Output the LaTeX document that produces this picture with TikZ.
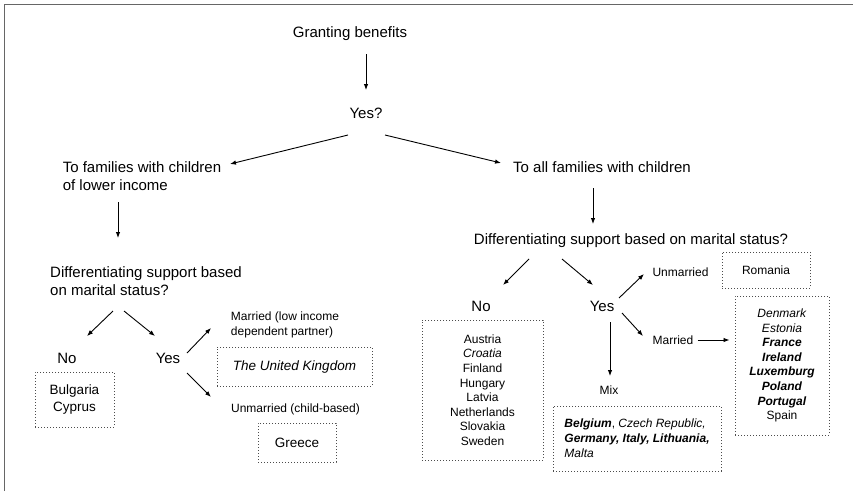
\documentclass[tikz,border=0pt]{standalone}
\usepackage{fontspec}
\setmainfont{Liberation Sans}
\usepackage{tikz}
\usetikzlibrary{arrows.meta}

\begin{document}
\begin{tikzpicture}[
  x=1pt, y=-1pt,
  txt/.style={inner sep=0pt, align=left, font=\fontsize{15}{18}\selectfont},
  lbl/.style={inner sep=0pt, align=left, font=\fontsize{12}{15}\selectfont},
  cbox/.style={rectangle, draw=black!70, line width=1pt, dash pattern=on 1pt off 2pt, inner sep=0pt, align=center},
  big/.style={font=\fontsize{13.5}{17}\selectfont},
  small/.style={font=\fontsize{12}{14.6}\selectfont},
  arrow/.style={-{Latex[length=6pt,width=4.5pt]}, line width=0.9pt},
]
  \useasboundingbox (0,0) rectangle (853,491);
  \draw[black!60, line width=1.2pt] (4.7,491) -- (4.7,4.7) -- (853,4.7);

  % top of the tree
  \node[txt] (grant) at (350,33.5) {Granting benefits};
  \node[txt] (yesq) at (366,113) {Yes?};
  \node[txt] (lowinc) at (142,176) {To families with children\\of lower income};
  \node[txt] (allfam) at (602,167) {To all families with children};

  % left branch
  \node[txt] (diffL) at (146,281) {Differentiating support based\\on marital status?};
  \node[txt] (noL) at (67,358) {No};
  \node[txt] (yesL) at (168,358) {Yes};
  \node[lbl] (marL) at (285,325) {Married (low income\\dependent partner)};
  \node[lbl] (unmL) at (295.5,409.5) {Unmarried (child-based)};
  \node[cbox, big, minimum width=79pt, minimum height=55pt] (bgcy) at (74.5,399.5) {Bulgaria\\Cyprus};
  \node[cbox, big, minimum width=155pt, minimum height=39pt] (uk) at (294.5,366.5) {\textit{The United Kingdom}};
  \node[cbox, big, minimum width=78pt, minimum height=39pt] (greece) at (297,442.5) {Greece};

  % right branch
  \node[txt] (diffR) at (631,240.5) {Differentiating support based on marital status?};
  \node[txt] (noR) at (481,306) {No};
  \node[txt] (yesR) at (602,306) {Yes};
  \node[lbl] (unmR) at (680.5,272) {Unmarried};
  \node[lbl] (marR) at (673,340) {Married};
  \node[lbl] (mix) at (609,390) {Mix};
  \node[cbox, small, minimum width=88pt, minimum height=36pt] (romania) at (766,270) {Romania};
  \node[cbox, small, minimum width=121pt, minimum height=140pt] (nolist) at (482.5,390)
    {Austria\\\textit{Croatia}\\Finland\\Hungary\\Latvia\\Netherlands\\Slovakia\\Sweden};
  \node[cbox, small, minimum width=94pt, minimum height=139pt] (marlist) at (782,365.5)
    {\textit{Denmark}\\\textit{Estonia}\\\textbf{\textit{France}}\\\textbf{\textit{Ireland}}\\\textbf{\textit{Luxemburg}}\\\textbf{\textit{Poland}}\\\textbf{\textit{Portugal}}\\Spain};
  \node[cbox, minimum width=168pt, minimum height=65pt, font=\fontsize{12}{15}\selectfont, align=left] (mixlist) at (637,438.5)
    {\textbf{\textit{Belgium}}, \textit{Czech Republic,}\\\textbf{\textit{Germany, Italy, Lithuania,}}\\\textit{Malta}};

  \draw[arrow] ([shift={(16,20.5)}]grant.center) -- ([shift={(0,-23)}]yesq.center);
  \draw[arrow] ([shift={(-18,22)}]yesq.center) -- ([shift={(88,-12)}]lowinc.center);
  \draw[arrow] ([shift={(19,22)}]yesq.center) -- ([shift={(-101,-4)}]allfam.center);
  \draw[arrow] ([shift={(-24,26)}]lowinc.center) -- ([shift={(-28,-43)}]diffL.center);
  \draw[arrow] ([shift={(-9,21)}]allfam.center) -- ([shift={(-38,-16.5)}]diffR.center);
  \draw[arrow] ([shift={(-33,30)}]diffL.center) -- ([shift={(20,-22)}]noL.center);
  \draw[arrow] ([shift={(-22,30)}]diffL.center) -- ([shift={(-13,-22)}]yesL.center);
  \draw[arrow] ([shift={(19,-5)}]yesL.center) -- ([shift={(-74,3)}]marL.center);
  \draw[arrow] ([shift={(19,15)}]yesL.center) -- ([shift={(-84.5,-12.5)}]unmL.center);
  \draw[arrow] ([shift={(-102,18.5)}]diffR.center) -- ([shift={(22,-21)}]noR.center);
  \draw[arrow] ([shift={(-69,18.5)}]diffR.center) -- ([shift={(-9,-21)}]yesR.center);
  \draw[arrow] ([shift={(17,-8)}]yesR.center) -- ([shift={(-36.5,2)}]unmR.center);
  \draw[arrow] ([shift={(20,7)}]yesR.center) -- ([shift={(-30,-4)}]marR.center);
  \draw[arrow, shorten <=4pt, shorten >=5pt] (marR.east) -- (marR -| marlist.west);
  \draw[arrow] ([shift={(8,16)}]yesR.center) -- ([shift={(1,-14)}]mix.center);
\end{tikzpicture}
\end{document}
